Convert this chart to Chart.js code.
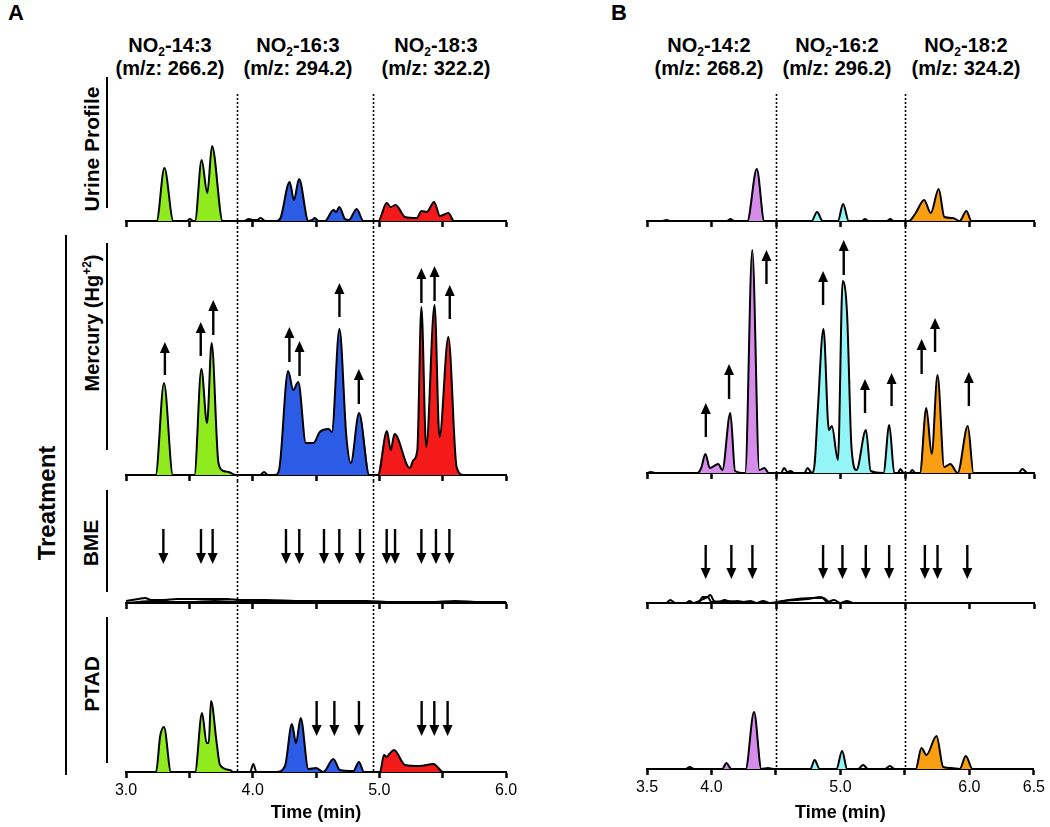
<!DOCTYPE html>
<html>
<head>
<meta charset="utf-8">
<script src="https://cdn.jsdelivr.net/npm/chart.js@4.4.1/dist/chart.umd.min.js"></script>
<style>
  html, body { margin:0; padding:0; background:#fff; }
  #wrap { position:relative; width:1050px; height:827px; overflow:hidden; font-family:"Liberation Sans", Arial, sans-serif; color:#000; }
  canvas { position:absolute; }
  .t { position:absolute; font-weight:bold; white-space:nowrap; }
  .title { position:absolute; width:200px; text-align:center; font-weight:bold; font-size:20px; line-height:23px; }
  .sub { font-size:12px; vertical-align:-4px; line-height:0; }
  .sup { font-size:12px; vertical-align:8px; line-height:0; }
  .rot { position:absolute; font-weight:bold; white-space:nowrap; transform:translate(-50%,-50%) rotate(-90deg); }
  .vl { position:absolute; width:2px; background:#000; }
</style>
</head>
<body>
<div id="wrap">
  <div class="t" style="left:8px;top:0px;font-size:22px;">A</div>
  <div class="t" style="left:611px;top:0px;font-size:22px;">B</div>

  <div class="title" style="left:70px;top:34px;">NO<span class="sub">2</span>-14:3<br>(m/z: 266.2)</div>
  <div class="title" style="left:198px;top:34px;">NO<span class="sub">2</span>-16:3<br>(m/z: 294.2)</div>
  <div class="title" style="left:336px;top:34px;">NO<span class="sub">2</span>-18:3<br>(m/z: 322.2)</div>
  <div class="title" style="left:609px;top:34px;">NO<span class="sub">2</span>-14:2<br>(m/z: 268.2)</div>
  <div class="title" style="left:737px;top:34px;">NO<span class="sub">2</span>-16:2<br>(m/z: 296.2)</div>
  <div class="title" style="left:866px;top:34px;">NO<span class="sub">2</span>-18:2<br>(m/z: 324.2)</div>

  <div class="rot" style="left:92px;top:149px;font-size:21px;">Urine Profile</div>
  <div class="rot" style="left:92px;top:323px;font-size:20px;">Mercury (Hg<span class="sup">+2</span>)</div>
  <div class="rot" style="left:91px;top:543px;font-size:21px;">BME</div>
  <div class="rot" style="left:92px;top:684px;font-size:21px;">PTAD</div>
  <div class="rot" style="left:47px;top:503px;font-size:24px;">Treatment</div>

  <div class="vl" style="left:106px;top:77px;height:131px;"></div>
  <div class="vl" style="left:106px;top:243px;height:207px;"></div>
  <div class="vl" style="left:106px;top:490px;height:102px;"></div>
  <div class="vl" style="left:106px;top:617px;height:146px;"></div>
  <div class="vl" style="left:65px;top:235px;height:540px;"></div>

  <canvas id="uA"></canvas><canvas id="mA"></canvas><canvas id="bA"></canvas><canvas id="pA"></canvas>
  <canvas id="uB"></canvas><canvas id="mB"></canvas><canvas id="bB"></canvas><canvas id="pB"></canvas>
</div>
<script>
// ---------- axes ----------
const xRangeA = [3.0, 6.0];
const xRangeB = [3.5, 6.5];
const tickStep = 0.5;
const tickLabelsA = ['3.0', '4.0', '5.0', '6.0'];
const tickLabelsB = ['3.5', '4.0', '5.0', '6.0', '6.5'];
const dividersA = [3.88, 4.95];
const dividersB = [4.5, 5.5];
const axisTitle = 'Time (min)';

// ---------- colours ----------
const colGreen = '#8FEA1E', colBlue = '#2C5CE6', colRed = '#F41A1A';
const colPurple = '#D58CEB', colCyan = '#93F5F5', colOrange = '#FA9E12';

// ---------- panel A traces [time, relative intensity] ----------
const urineA = [[3.0,0],[3.20,0],[3.242,0],[3.303,53],[3.374,0],[3.48,0],[3.505,2],[3.53,0],[3.545,0],[3.597,61],[3.642,28],[3.679,75],[3.763,0],[3.93,0],[3.97,2],[4.0,1],[4.035,1],[4.063,3],[4.10,0],[4.189,0],[4.22,3],[4.292,39],[4.326,21],[4.366,42],[4.44,0],[4.47,1],[4.49,3],[4.52,0],[4.571,0],[4.637,11],[4.66,9],[4.684,14],[4.729,2],[4.76,1],[4.821,12],[4.874,0],[4.992,0],[5.058,18],[5.089,14],[5.129,16],[5.203,4],[5.295,3],[5.334,10],[5.374,9],[5.432,19],[5.479,5],[5.545,8],[5.589,0],[6.0,0]];
const urineRegionsA = [[3.2,3.8,colGreen],[4.15,4.9,colBlue],[4.95,5.62,colRed]];

const mercuryA = [[3.0,0],[3.20,0],[3.234,0],[3.30,92],[3.37,0],[3.50,0],[3.54,0],[3.595,106],[3.64,52],[3.676,132],[3.73,12],[3.77,4],[3.81,3],[3.87,0],[4.06,0],[4.09,3],[4.12,0],[4.18,0],[4.21,6],[4.28,104],[4.32,85],[4.36,93],[4.42,32],[4.48,32],[4.53,43],[4.60,46],[4.625,43],[4.685,146],[4.74,38],[4.775,12],[4.84,62],[4.92,0],[4.99,0],[5.06,44],[5.09,25],[5.12,41],[5.24,7],[5.27,15],[5.30,25],[5.332,168],[5.37,28],[5.436,170],[5.475,38],[5.545,138],[5.61,8],[5.665,0],[6.0,0]];
const mercuryRegionsA = [[3.2,3.9,colGreen],[4.15,4.95,colBlue],[4.97,5.7,colRed]];
const mercuryArrowsA = [[3.307,100,133],[3.59,119,153],[3.689,140,175],[4.29,113,148],[4.37,99,134],[4.685,158,192],[4.838,71,106],[5.332,172,207],[5.436,174,209],[5.556,156,190]];

const bmeA1 = [[3.0,2],[3.1,4],[3.15,5],[3.2,3],[3.3,3],[3.4,4],[3.6,4],[3.8,4],[3.9,3],[4.1,3],[4.4,2],[4.7,2],[4.9,2],[5.1,1],[5.4,1],[5.6,2],[5.8,1],[6.0,1]];
const bmeA2 = [[3.0,0],[3.1,1],[3.2,2],[3.3,1],[3.5,1],[3.7,2],[3.9,1],[4.2,1],[4.5,1],[5.0,0],[6.0,0]];
const bmeArrowsA = [[3.295,74,39],[3.592,74,39],[3.684,74,39],[4.263,74,39],[4.368,74,39],[4.563,74,39],[4.684,74,39],[4.847,74,39],[5.058,74,39],[5.124,74,39],[5.332,74,39],[5.447,74,39],[5.553,74,39]];

const ptadA = [[3.0,0],[3.20,0],[3.237,0],[3.27,36],[3.30,45],[3.355,0],[3.50,0],[3.545,0],[3.60,59],[3.637,29],[3.653,29],[3.671,71],[3.716,29],[3.742,7],[3.821,2],[3.847,0],[3.98,0],[4.005,8],[4.03,0],[4.189,0],[4.255,6],[4.31,48],[4.342,29],[4.379,54],[4.44,3],[4.50,4],[4.558,0],[4.637,13],[4.689,2],[4.795,1],[4.839,10],[4.879,0],[5.005,0],[5.037,17],[5.058,15],[5.079,18],[5.116,22],[5.203,7],[5.32,6],[5.426,8],[5.505,0],[6.0,0]];
const ptadRegionsA = [[3.2,3.86,colGreen],[4.15,4.9,colBlue],[4.98,5.52,colRed]];
const ptadArrowsA = [[4.505,71,36],[4.645,71,36],[4.839,71,36],[5.334,71,36],[5.434,71,36],[5.539,71,36]];

// ---------- panel B traces ----------
const urineB = [[3.5,0],[3.62,0],[3.65,1],[3.68,0],[4.12,0],[4.147,2],[4.175,0],[4.278,0],[4.351,52],[4.409,0],[4.776,0],[4.818,9],[4.862,0],[4.98,0],[5.02,17],[5.064,0],[5.165,0],[5.19,2],[5.215,0],[5.36,0],[5.386,2],[5.41,0],[5.53,0],[5.583,8],[5.648,21],[5.70,8],[5.761,32],[5.805,4],[5.871,3],[5.923,0],[5.976,10],[6.015,0],[6.5,0]];
const urineRegionsB = [[4.25,4.42,colPurple],[4.75,5.1,colCyan],[5.5,6.05,colOrange]];

const mercuryB = [[3.5,0],[3.53,1],[3.56,0],[3.89,0],[3.92,5],[3.953,19],[3.987,5],[4.052,9],[4.084,3],[4.146,60],[4.183,2],[4.261,0],[4.316,223],[4.371,3],[4.41,5],[4.444,0],[4.54,0],[4.562,5],[4.59,1],[4.614,2],[4.64,0],[4.72,0],[4.745,5],[4.770,1],[4.784,0],[4.80,10],[4.824,63],[4.868,144],[4.91,43],[4.933,47],[4.98,13],[5.017,192],[5.051,159],[5.085,26],[5.124,3],[5.197,43],[5.234,2],[5.333,0],[5.378,48],[5.417,0],[5.445,0],[5.464,4],[5.49,0],[5.535,0],[5.556,3],[5.58,0],[5.616,0],[5.665,65],[5.707,19],[5.752,98],[5.804,6],[5.851,9],[5.908,0],[5.987,47],[6.031,0],[6.38,0],[6.41,4],[6.45,0],[6.5,0]];
const mercuryRegionsB = [[3.85,4.45,colPurple],[4.775,5.43,colCyan],[5.6,6.04,colOrange]];
const mercuryArrowsB = [[3.956,36,70],[4.136,74,109],[4.426,189,223],[4.865,168,202],[5.025,198,233],[5.19,60,94],[5.396,67,100],[5.629,99,134],[5.733,121,155],[5.995,67,101]];

const bmeB1 = [[3.5,0],[3.65,0],[3.68,3],[3.72,0],[3.80,0],[3.83,2],[3.86,0],[3.92,3],[3.97,6],[3.99,8],[4.02,2],[4.06,1],[4.10,3],[4.15,1],[4.2,2],[4.25,1],[4.3,2],[4.35,0],[4.4,2],[4.45,0],[4.55,2],[4.65,3],[4.75,4],[4.85,6],[4.9,1],[4.95,3],[5.0,0],[5.05,2],[5.1,0],[6.5,0]];
const bmeB2 = [[3.5,0],[3.9,0],[3.93,6],[3.97,6],[4.0,1],[4.1,2],[4.3,0],[4.5,0],[4.6,3],[4.8,5],[4.87,5],[4.92,0],[6.5,0]];
const bmeArrowsB = [[3.955,58,24],[4.154,58,24],[4.317,58,24],[4.865,58,24],[5.015,58,24],[5.196,58,24],[5.377,58,24],[5.654,58,24],[5.752,58,24],[5.983,58,24]];

const ptadB = [[3.5,0],[3.80,0],[3.83,2],[3.87,0],[4.084,0],[4.115,6],[4.154,0],[4.265,0],[4.33,57],[4.387,0],[4.439,1],[4.478,0],[4.767,0],[4.80,9],[4.839,0],[4.969,0],[5.013,18],[5.052,0],[5.137,0],[5.176,4],[5.214,0],[5.344,0],[5.383,3],[5.421,0],[5.584,0],[5.628,21],[5.667,14],[5.745,33],[5.797,2],[5.861,1],[5.925,0],[5.972,13],[6.024,0],[6.5,0]];
const ptadRegionsB = [[4.05,4.40,colPurple],[4.74,5.06,colCyan],[5.55,6.05,colOrange]];

// ---------- helpers ----------
Chart.defaults.font.family = '"Liberation Sans", Arial, sans-serif';
Chart.defaults.color = '#000';
Chart.defaults.animation = false;

const toXY = arr => arr.map(p => ({x: p[0], y: p[1]}));

const overlay = {
  id: 'overlay',
  afterDraw(chart, args, o) {
    const {ctx, chartArea, scales} = chart;
    const xs = scales.x, ys = scales.y;
    ctx.save();
    ctx.strokeStyle = '#000';
    // dotted dividers
    ctx.lineWidth = 1.6;
    ctx.setLineDash([2, 2]);
    (o.dividers || []).forEach(t => {
      const px = Math.round(xs.getPixelForValue(t)) + 0.5;
      const y0 = o.divTop ? chartArea.top : 0;
      const y1 = o.divBottom != null ? chartArea.bottom + o.divBottom : chart.height;
      ctx.beginPath(); ctx.moveTo(px, y0); ctx.lineTo(px, y1); ctx.stroke();
    });
    ctx.setLineDash([]);
    // arrows
    (o.arrows || []).forEach(a => {
      const px = xs.getPixelForValue(a[0]);
      const yTail = ys.getPixelForValue(a[1]);
      const yTip = ys.getPixelForValue(a[2]);
      const dir = yTip < yTail ? -1 : 1;
      const head = 11, hw = 5;
      ctx.lineWidth = 2.4;
      ctx.beginPath(); ctx.moveTo(px, yTail); ctx.lineTo(px, yTip - dir * head * 0.8); ctx.stroke();
      ctx.fillStyle = '#000';
      ctx.beginPath();
      ctx.moveTo(px, yTip);
      ctx.lineTo(px - hw, yTip - dir * head);
      ctx.lineTo(px + hw, yTip - dir * head);
      ctx.closePath(); ctx.fill();
    });
    ctx.restore();
  }
};

function makeRow(id, cfg) {
  const cv = document.getElementById(id);
  cv.width = cfg.width; cv.height = cfg.height;
  cv.style.left = cfg.left + 'px'; cv.style.top = cfg.top + 'px';
  const datasets = [];
  cfg.traces.forEach(tr => datasets.push({
    data: toXY(tr), borderColor: '#000', borderWidth: 2, pointRadius: 0,
    fill: false, cubicInterpolationMode: 'monotone', order: 0, clip: 4
  }));
  (cfg.regions || []).forEach(r => datasets.push({
    data: toXY(cfg.traces[0].filter(p => p[0] >= r[0] && p[0] <= r[1])),
    borderWidth: 0, borderColor: 'rgba(0,0,0,0)', backgroundColor: r[2], pointRadius: 0,
    fill: 'origin', cubicInterpolationMode: 'monotone', order: 1, clip: 4
  }));
  const labels = cfg.tickLabels;
  const xScale = {
    type: 'linear', min: cfg.range[0], max: cfg.range[1],
    ticks: {
      display: true, stepSize: tickStep, autoSkip: false, maxRotation: 0, padding: 3,
      font: {size: 16}, color: '#000',
      callback: v => { if (!cfg.bottom) return ''; const s = Number(v).toFixed(1); return labels.includes(s) ? s : ''; }
    },
    grid: {drawOnChartArea: false, drawTicks: true, tickLength: 6, tickWidth: 2.5, color: '#000'},
    border: {display: true, color: '#000', width: 2},
    title: {display: !!cfg.bottom, text: axisTitle, font: {size: 18, weight: 'bold'}, color: '#000', padding: {top: 0, bottom: 3}},
    afterFit: s => { s.height = cfg.axisH; }
  };
  return new Chart(cv, {
    type: 'line',
    data: {datasets},
    options: {
      responsive: false, animation: false, events: [],
      layout: {padding: {left: 20, right: cfg.padRight || 20, top: cfg.padTop || 0, bottom: 0}},
      plugins: {legend: {display: false}, tooltip: {enabled: false},
        overlay: {dividers: cfg.dividers, arrows: cfg.arrows, divTop: cfg.divTop, divBottom: cfg.divBottom}},
      scales: {
        x: xScale,
        y: {display: false, min: 0, max: cfg.ymax}
      }
    },
    plugins: [overlay]
  });
}

// ---------- panel A ----------
makeRow('uA', {left:106, top:88, width:420, height:139, padTop:6, axisH:6, ymax:127, range:xRangeA, tickLabels:tickLabelsA,
  traces:[urineA], regions:urineRegionsA, dividers:dividersA, divTop:true});
makeRow('mA', {left:106, top:227, width:420, height:254, axisH:6, ymax:248, range:xRangeA, tickLabels:tickLabelsA,
  traces:[mercuryA], regions:mercuryRegionsA, arrows:mercuryArrowsA, dividers:dividersA});
makeRow('bA', {left:106, top:481, width:420, height:128, axisH:6, ymax:122, range:xRangeA, tickLabels:tickLabelsA,
  traces:[bmeA1, bmeA2], arrows:bmeArrowsA, dividers:dividersA});
makeRow('pA', {left:106, top:609, width:420, height:218, axisH:55, ymax:163, range:xRangeA, tickLabels:tickLabelsA,
  traces:[ptadA], regions:ptadRegionsA, arrows:ptadArrowsA, dividers:dividersA, divBottom:0, bottom:true});

// ---------- panel B ----------
makeRow('uB', {left:627, top:88, width:421, height:139, padTop:6, padRight:14, axisH:6, ymax:127, range:xRangeB, tickLabels:tickLabelsB,
  traces:[urineB], regions:urineRegionsB, dividers:dividersB, divTop:true});
makeRow('mB', {left:627, top:227, width:421, height:252, padRight:14, axisH:6, ymax:246, range:xRangeB, tickLabels:tickLabelsB,
  traces:[mercuryB], regions:mercuryRegionsB, arrows:mercuryArrowsB, dividers:dividersB});
makeRow('bB', {left:627, top:479, width:421, height:130, padRight:14, axisH:6, ymax:124, range:xRangeB, tickLabels:tickLabelsB,
  traces:[bmeB1, bmeB2], arrows:bmeArrowsB, dividers:dividersB});
makeRow('pB', {left:627, top:609, width:421, height:218, padRight:14, axisH:58, ymax:160, range:xRangeB, tickLabels:tickLabelsB,
  traces:[ptadB], regions:ptadRegionsB, dividers:dividersB, divBottom:0, bottom:true});
</script>
</body>
</html>
